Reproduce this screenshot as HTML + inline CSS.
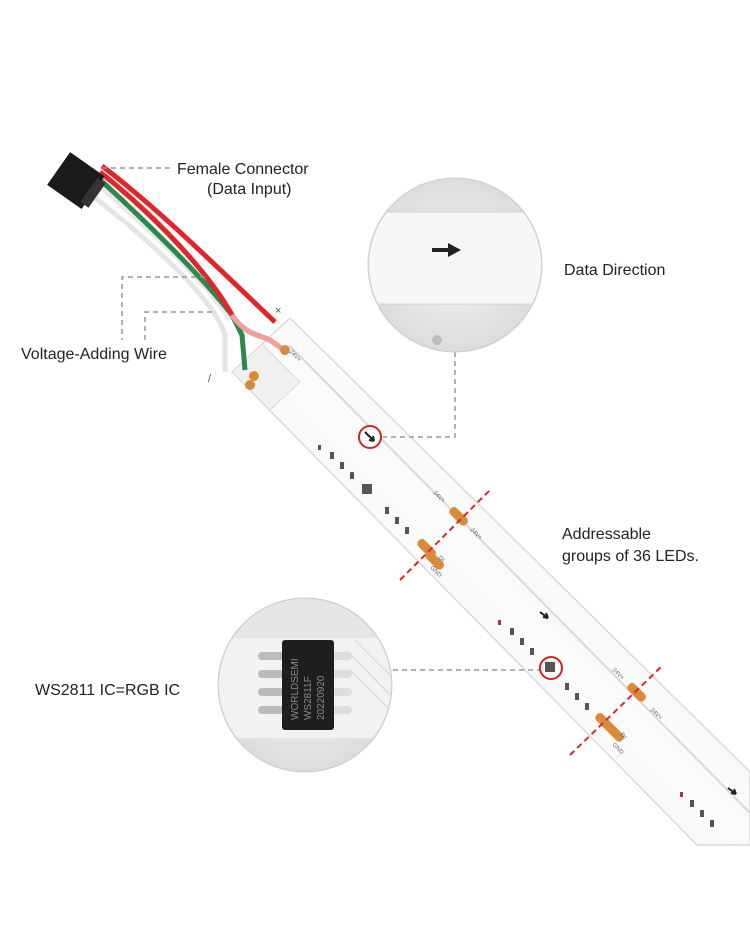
<!DOCTYPE html>
<html><head><meta charset="utf-8"><style>
body{margin:0;background:#fff;}
svg{display:block;font-family:"Liberation Sans",sans-serif;}
</style></head><body>
<svg width="750" height="930" viewBox="0 0 750 930" xmlns="http://www.w3.org/2000/svg">
<defs>
<radialGradient id="cg" cx="50%" cy="50%" r="50%"><stop offset="0" stop-color="#f4f4f4"/><stop offset="1" stop-color="#dcdcdc"/></radialGradient>
<linearGradient id="sg" x1="0" y1="1" x2="1" y2="0"><stop offset="0" stop-color="#eeeeee"/><stop offset="0.5" stop-color="#fbfbfb"/><stop offset="1" stop-color="#ececec"/></linearGradient>
</defs>
<rect width="750" height="930" fill="#fff"/>
<!-- strip -->
<polygon points="232,372 290,318 750,772 750,845 697,845" fill="url(#sg)" stroke="#dadada" stroke-width="1.5"/>
<line x1="290" y1="346" x2="750" y2="813" stroke="#d8d8d8" stroke-width="2"/>
<!-- end cap piece -->
<polygon points="232,372 262,344 300,382 270,410" fill="#f0f0f0" stroke="#dcdcdc"/>
<!-- wires -->
<path d="M85,190 C150,240 215,300 225,335 L225,372" stroke="#e4e4e4" stroke-width="5" fill="none"/>
<path d="M93,180 C150,230 205,280 230,320" stroke="#e8e8e8" stroke-width="5" fill="none"/>
<path d="M95,175 C150,225 205,280 232,315 L242,335 L245,370" stroke="#2a8a4a" stroke-width="5" fill="none"/>
<path d="M100,172 C160,220 210,275 232,315 C245,335 260,335 270,340 L284,350" stroke="#e0262a" stroke-width="5" fill="none"/>
<path d="M232,315 C245,335 260,335 270,340 L284,350" stroke="#f0a0a0" stroke-width="5" fill="none"/>
<path d="M102,166 C160,210 220,270 275,322" stroke="#e0262a" stroke-width="5" fill="none"/>
<!-- connector -->
<g transform="rotate(35 75 180)"><rect x="55" y="160" width="42" height="40" fill="#1a1a1a"/><rect x="92" y="165" width="10" height="30" fill="#333"/></g>
<!-- pads -->
<g fill="#d98a3a">
<circle cx="250" cy="385" r="5"/><circle cx="254" cy="376" r="5"/>
<circle cx="285" cy="350" r="5"/>
<rect x="448" y="512" width="22" height="9" rx="4" transform="rotate(45 459 516)"/>
<rect x="416" y="544" width="22" height="9" rx="4" transform="rotate(45 427 548)"/>
<rect x="424" y="556" width="22" height="9" rx="4" transform="rotate(45 435 560)"/>
<rect x="626" y="688" width="22" height="9" rx="4" transform="rotate(45 637 692)"/>
<rect x="594" y="718" width="22" height="9" rx="4" transform="rotate(45 605 722)"/>
<rect x="604" y="728" width="22" height="9" rx="4" transform="rotate(45 615 732)"/>
</g>
<g font-size="6" fill="#666">
<text transform="translate(289,352) rotate(45)">24V+</text>
<text transform="translate(433,493) rotate(45)">24V+</text>
<text transform="translate(470,530) rotate(45)">24V+</text>
<text transform="translate(612,670) rotate(45)">24V+</text>
<text transform="translate(650,710) rotate(45)">24V+</text>
<text transform="translate(438,558) rotate(45)">DI</text>
<text transform="translate(430,568) rotate(45)">GND</text>
<text transform="translate(620,735) rotate(45)">DI</text>
<text transform="translate(612,745) rotate(45)">GND</text>
</g>
<!-- small components -->
<g fill="#555">
<rect x="330" y="452" width="4" height="7"/><rect x="340" y="462" width="4" height="7"/><rect x="350" y="472" width="4" height="7"/><rect x="362" y="484" width="10" height="10"/><rect x="385" y="507" width="4" height="7"/><rect x="395" y="517" width="4" height="7"/><rect x="405" y="527" width="4" height="7"/>
<rect x="510" y="628" width="4" height="7"/><rect x="520" y="638" width="4" height="7"/><rect x="530" y="648" width="4" height="7"/><rect x="545" y="662" width="10" height="10"/><rect x="565" y="683" width="4" height="7"/><rect x="575" y="693" width="4" height="7"/><rect x="585" y="703" width="4" height="7"/>
<rect x="690" y="800" width="4" height="7"/><rect x="700" y="810" width="4" height="7"/><rect x="710" y="820" width="4" height="7"/>
</g>
<g fill="#9a3a3a"><rect x="318" y="445" width="3" height="5"/><rect x="498" y="620" width="3" height="5"/><rect x="680" y="792" width="3" height="5"/></g>
<!-- arrows on strip -->
<path d="M540,612 l8,6 M548,618 l-2,-5 M548,618 l-5,-1" stroke="#222" stroke-width="2" fill="none"/>
<path d="M728,788 l8,6 M736,794 l-2,-5 M736,794 l-5,-1" stroke="#222" stroke-width="2" fill="none"/>
<!-- red dashed cut lines -->
<line x1="400" y1="580" x2="490" y2="490" stroke="#d42a2a" stroke-width="2" stroke-dasharray="6,4"/>
<line x1="570" y1="755" x2="662" y2="666" stroke="#d42a2a" stroke-width="2" stroke-dasharray="6,4"/>
<!-- leader lines -->
<g stroke="#999" stroke-width="1.5" fill="none" stroke-dasharray="5,4">
<path d="M102,168 L170,168"/>
<path d="M205,277 L122,277 L122,340"/>
<path d="M212,312 L145,312 L145,340"/>
<path d="M455,352 L455,437 L383,437"/>
<path d="M393,670 L540,670"/>
</g>
<!-- red markers -->
<circle cx="370" cy="437" r="11" fill="#fff" stroke="#c62828" stroke-width="2"/>
<path d="M365,432 L374,441 M374,441 l-1,-5 M374,441 l-5,-1" stroke="#222" stroke-width="2" fill="none"/>
<circle cx="551" cy="668" r="11" fill="none" stroke="#c62828" stroke-width="2"/>
<!-- top circle -->
<circle cx="455" cy="265" r="87" fill="url(#cg)" stroke="#ccc"/>
<clipPath id="c1"><circle cx="455" cy="265" r="86"/></clipPath>
<g clip-path="url(#c1)">
<rect x="360" y="212" width="200" height="92" fill="#f7f7f7"/>
<line x1="360" y1="212" x2="560" y2="212" stroke="#d0d0d0"/>
<line x1="360" y1="304" x2="560" y2="304" stroke="#d0d0d0"/>
<circle cx="437" cy="340" r="5" fill="#bbb"/>
</g>
<path d="M432,250 L450,250" stroke="#222" stroke-width="4"/>
<polygon points="448,243 461,250 448,257" fill="#222"/>
<!-- bottom circle -->
<circle cx="305" cy="685" r="87" fill="url(#cg)" stroke="#ccc"/>
<clipPath id="c2"><circle cx="305" cy="685" r="86"/></clipPath>
<g clip-path="url(#c2)">
<rect x="218" y="598" width="180" height="40" fill="#e6e6e6"/>
<rect x="218" y="638" width="180" height="100" fill="#f2f2f2"/>
<g stroke="#d4d4d4" fill="none"><path d="M355,640 L395,680"/><path d="M348,652 L395,700"/><path d="M350,670 L395,715"/></g>
<g fill="#bbb"><rect x="258" y="652" width="26" height="8" rx="4"/><rect x="258" y="670" width="26" height="8" rx="4"/><rect x="258" y="688" width="26" height="8" rx="4"/><rect x="258" y="706" width="26" height="8" rx="4"/></g>
<g fill="#ddd"><rect x="330" y="652" width="22" height="8" rx="4"/><rect x="330" y="670" width="22" height="8" rx="4"/><rect x="330" y="688" width="22" height="8" rx="4"/><rect x="330" y="706" width="22" height="8" rx="4"/></g>
<rect x="282" y="640" width="52" height="90" rx="3" fill="#1e1e1e"/>
<text transform="translate(298,720) rotate(-90)" font-size="10" fill="#888">WORLDSEMI</text>
<text transform="translate(311,720) rotate(-90)" font-size="10" fill="#888">WS2811F</text>
<text transform="translate(324,720) rotate(-90)" font-size="10" fill="#888">20220920</text>
</g>
<!-- labels -->
<g font-size="16" fill="#222">
<text x="177" y="174">Female Connector</text>
<text x="207" y="194">(Data Input)</text>
<text x="564" y="275">Data Direction</text>
<text x="21" y="359">Voltage-Adding Wire</text>
<text x="562" y="539">Addressable</text>
<text x="562" y="561">groups of 36 LEDs.</text>
<text x="35" y="695">WS2811 IC=RGB IC</text>
</g>
<text x="275" y="314" font-size="11" fill="#555">×</text>
<text x="208" y="382" font-size="11" fill="#555">/</text>
</svg>
</body></html>
